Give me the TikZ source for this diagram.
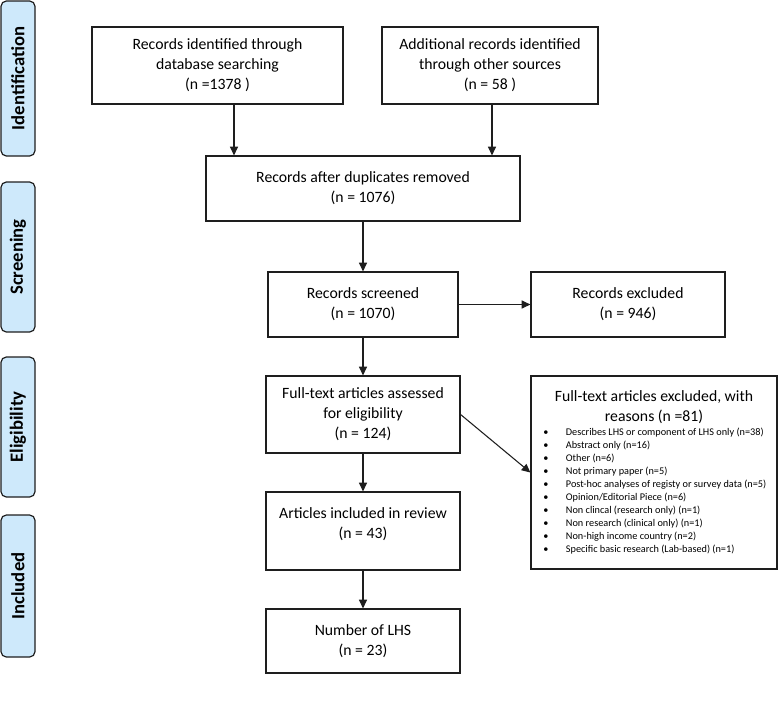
\documentclass[tikz,border=0pt]{standalone}
\usepackage{fontspec}
\setmainfont{Carlito}
\usetikzlibrary{arrows.meta}
\definecolor{phaseblue}{RGB}{206,233,251}
\definecolor{edge}{RGB}{30,30,30}
\begin{document}
\begin{tikzpicture}[x=0.75pt,y=-0.75pt,
  box/.style={draw=edge, line width=0.9pt, fill=white, inner sep=0pt, align=center,
    font=\fontsize{11.8}{15}\selectfont},
  phase/.style={draw=edge, line width=0.9pt, fill=phaseblue, rounded corners=4pt,
    inner sep=0pt, rotate=90, font=\bfseries\fontsize{14}{16}\selectfont},
  arr/.style={-{Triangle[length=6.5pt,width=6pt]}, line width=0.8pt, draw=edge},
  plain/.style={inner sep=0pt, align=center, font=\fontsize{11.8}{15}\selectfont}]
\useasboundingbox (0,0) rectangle (778,701);

% phase labels
\node[phase, minimum width=116.25pt, minimum height=25.5pt] (p1) at (18,78.5) {Identification};
\node[phase, minimum width=112.5pt, minimum height=25.5pt] (p2) at (18,257) {Screening};
\node[phase, minimum width=105pt, minimum height=25.5pt] (p3) at (18,427) {Eligibility};
\node[phase, minimum width=106.5pt, minimum height=25.5pt] (p4) at (18,586) {Included};

% boxes
\node[box, minimum width=188.25pt, minimum height=57.75pt] (b1) at (217.5,65.5)
  {Records identified through\\database searching\\(n =1378 )};
\node[box, minimum width=162pt, minimum height=57.75pt] (b2) at (490,65.5)
  {Additional records identified\\through other sources\\(n = 58 )};
\node[box, minimum width=235.5pt, minimum height=48.75pt] (dup) at (363,188.5)
  {Records after duplicates removed\\(n = 1076)};
\node[box, minimum width=142.5pt, minimum height=48.75pt] (scr) at (363,304.5)
  {Records screened\\(n = 1070)};
\node[box, minimum width=145.5pt, minimum height=48.75pt] (exc) at (628,304.5)
  {Records excluded\\(n = 946)};
\node[box, minimum width=145.5pt, minimum height=57.75pt] (ft) at (363,414.5)
  {Full-text articles assessed\\for eligibility\\(n = 124)};
\node[box, minimum width=184.5pt, minimum height=144.75pt] (rs) at (654,472.5) {};
\node[plain] (rst) at (654,407) {Full-text articles excluded, with\\reasons (n =81)};
\node[inner sep=0pt, anchor=west, align=left, font=\fontsize{7.7}{9.75}\selectfont] (rsl) at (543,491)
  {\makebox[17pt][l]{\textbullet}Describes LHS or component of LHS only (n=38)\\
   \makebox[17pt][l]{\textbullet}Abstract only (n=16)\\
   \makebox[17pt][l]{\textbullet}Other (n=6)\\
   \makebox[17pt][l]{\textbullet}Not primary paper (n=5)\\
   \makebox[17pt][l]{\textbullet}Post-hoc analyses of registy or survey data (n=5)\\
   \makebox[17pt][l]{\textbullet}Opinion/Editorial Piece (n=6)\\
   \makebox[17pt][l]{\textbullet}Non clincal (research only) (n=1)\\
   \makebox[17pt][l]{\textbullet}Non research (clinical only) (n=1)\\
   \makebox[17pt][l]{\textbullet}Non-high income country (n=2)\\
   \makebox[17pt][l]{\textbullet}Specific basic research (Lab-based) (n=1)};
\node[box, minimum width=145.5pt, minimum height=58.5pt] (inc) at (363,531) {};
\node[plain] (inct) at (363,524) {Articles included in review\\(n = 43)};
\node[box, minimum width=145.5pt, minimum height=48pt] (lhs) at (363,641)
  {Number of LHS\\(n = 23)};

% connectors
\coordinate (c1) at (234,0);
\coordinate (c2) at (492,0);
\draw[arr] (b1.south -| c1) -- (dup.north -| c1);
\draw[arr] (b2.south -| c2) -- (dup.north -| c2);
\draw[arr] (dup.south) -- (scr.north);
\draw[arr] (scr.east) -- (exc.west);
\draw[arr] (scr.south) -- (ft.north);
\draw[arr] (ft.east) -- (rs.west);
\draw[arr] (ft.south) -- (inc.north);
\draw[arr] (inc.south) -- (lhs.north);
\end{tikzpicture}
\end{document}
